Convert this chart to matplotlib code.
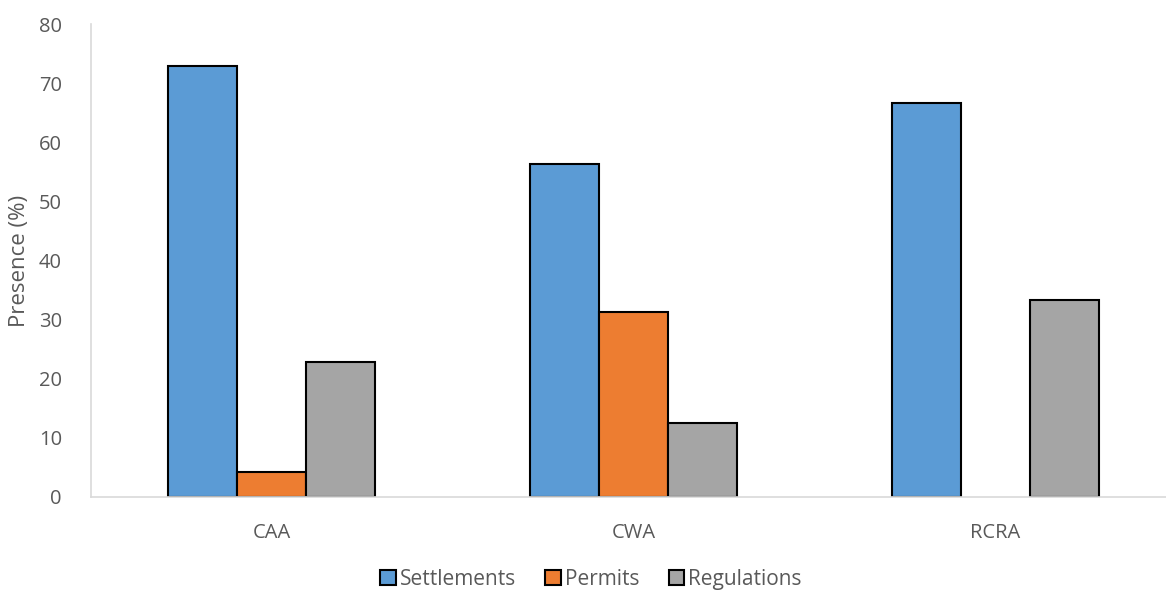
import matplotlib
matplotlib.use("Agg")
import matplotlib.pyplot as plt
import numpy as np

categories = ["CAA", "CWA", "RCRA"]
settlements = [72.9, 56.25, 66.7]
permits = [4.17, 31.25, 0.0]
regulations = [22.9, 12.5, 33.3]
series_names = ["Settlements", "Permits", "Regulations"]
colors = ["#5b9bd5", "#ed7d31", "#a5a5a5"]
yticks = [0, 10, 20, 30, 40, 50, 60, 70, 80]

plt.rcParams['font.family'] = ['Open Sans', 'DejaVu Sans']
W, H = 1166, 590
fig = plt.figure(figsize=(W/100, H/100), dpi=100)
left, right, top, bottom = 91, 1176, 24, 497
ax = fig.add_axes([left/W, 1-bottom/H, (right-left)/W, (bottom-top)/H])

x = np.arange(len(categories))
bw = 0.191
for i, (vals, name, c) in enumerate(zip([settlements, permits, regulations], series_names, colors)):
    bars = ax.bar(x + (i-1)*bw, vals, width=bw, color=c, edgecolor="black", linewidth=1.5, label=name)
    for b, v in zip(bars, vals):
        if v == 0:
            b.set_linewidth(0)

ax.set_xlim(-0.5, 2.5)
ax.set_ylim(0, 80)
ax.set_yticks(yticks)
ax.set_xticks(x)
ax.set_xticklabels(categories)
ax.tick_params(axis='both', length=0, labelsize=14.5, colors="#595959")
ax.tick_params(axis='y', pad=21)
ax.tick_params(axis='x', pad=19)
for s in ["top", "right"]:
    ax.spines[s].set_visible(False)
ax.spines["left"].set_color("#d9d9d9")
ax.spines["bottom"].set_color("#d9d9d9")
ax.spines["left"].set_linewidth(1.2)
ax.spines["bottom"].set_linewidth(1.2)
ax.set_ylabel("Presence (%)", fontsize=16, color="#595959", labelpad=6)

leg = fig.legend(loc="center", bbox_to_anchor=(591/W, 1-579.5/H), ncol=3, frameon=False,
                 fontsize=15, handlelength=0.75, handleheight=0.75, handletextpad=0.2,
                 columnspacing=1.4, labelcolor="#595959")
fig.savefig("out.png", dpi=100)
